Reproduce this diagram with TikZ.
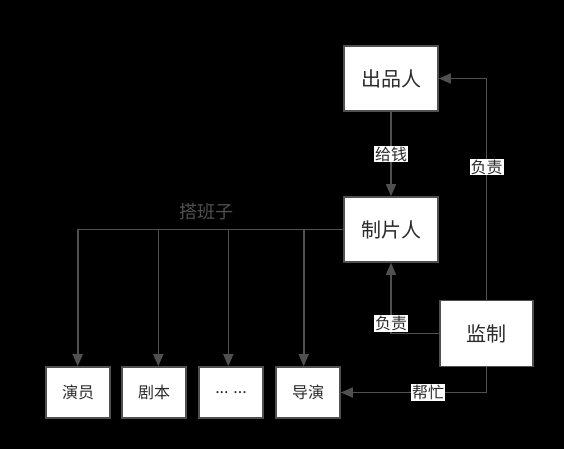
\documentclass[tikz,border=0pt]{standalone}
\usepackage{fontspec}
\newfontfamily\cjk{Noto Sans CJK SC}
\usetikzlibrary{arrows.meta}
\definecolor{linegray}{HTML}{505050}
\definecolor{textgray}{HTML}{2B2B2B}
\begin{document}
\begin{tikzpicture}[x=1pt, y=-1pt,
  box/.style={rectangle, draw=linegray, line width=1.6pt, fill=white, text=textgray, inner sep=0pt},
  bigbox/.style={box, minimum width=94pt, minimum height=65pt, font=\cjk\fontsize{20}{20}\selectfont},
  smallbox/.style={box, minimum width=64pt, minimum height=51pt, font=\cjk\fontsize{16}{16}\selectfont},
  lbl/.style={fill=white, text=textgray, inner sep=1pt, font=\cjk\fontsize{16}{16}\selectfont},
  link/.style={draw=linegray, line width=1.6pt, -{Triangle[length=12pt, width=10pt, fill=linegray]}}]
  % Background
  \fill[black] (0,0) rectangle (564,449);

  % Nodes
  \draw (391,78.5)  node(cp) [bigbox] {出品人};
  \draw (391,229.5) node(zp) [bigbox] {制片人};
  \draw (486.5,333.5) node(jz) [bigbox, minimum width=93pt, minimum height=66pt] {监制};

  \draw (78,392.5)  node(yy) [smallbox] {演员};
  \draw (154,392.5) node(jb) [smallbox] {剧本};
  \draw (231,392.5) node(dd) [smallbox] {... ...};
  \draw (308,392.5) node(dy) [smallbox] {导演};

  \draw (206,212) node(dbz) [font=\cjk\fontsize{18}{18}\selectfont, text=linegray] {搭班子};

  % Edges
  \draw[link] (cp.south) -- node[lbl] {给钱} (zp.north);
  \draw[link] (jz.north) |- node[lbl, pos=0.3] {负责} (cp.east);
  \draw[link] (jz.west) -| node[lbl, pos=0.57] {负责} (zp.south);
  \draw[link] (jz.south) |- node[lbl, pos=0.7] {帮忙} (dy.east);

  \foreach \n/\dx in {yy/-0.3, jb/4.3, dd/-2.7, dy/-4.3}
    \draw[link] (zp.west) -| ([xshift=\dx pt]\n.north);

\end{tikzpicture}
\end{document}
